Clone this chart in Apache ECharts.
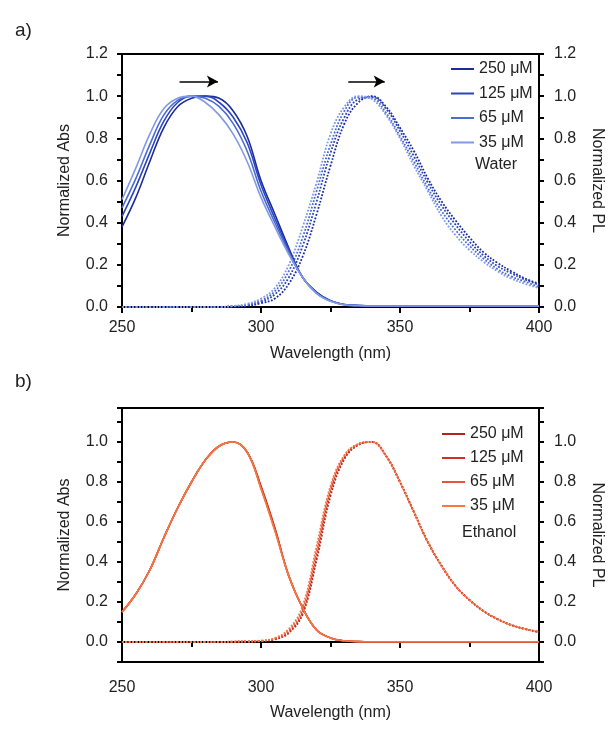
<!DOCTYPE html>
<html>
<head>
<meta charset="utf-8">
<script src="https://cdn.jsdelivr.net/npm/echarts@6/dist/echarts.min.js"></script>
<style>
  html, body { margin: 0; padding: 0; background: #fff; }
  #main { width: 613px; height: 734px; }
</style>
</head>
<body>
<div id="main"></div>
<script>
// wavelength grid (nm), 5 nm steps
var wavelength = [250,255,260,265,270,275,280,285,290,295,300,305,310,315,320,325,330,335,340,345,350,355,360,365,370,375,380,385,390,395,400];

var legendNames = ['250 μM', '125 μM', '65 μM', '35 μM'];

// water - absorbance
var waterAbs250 = [0.38,0.52,0.69,0.85,0.95,0.99,1.00,0.99,0.93,0.81,0.60,0.44,0.28,0.14,0.07,0.03,0.012,0.007,0.005,0.005,0.005,0.005,0.005,0.005,0.005,0.005,0.005,0.005,0.005,0.005,0.005];
var waterAbs125 = [0.43,0.57,0.73,0.88,0.97,1.00,1.00,0.97,0.90,0.78,0.58,0.42,0.27,0.14,0.07,0.03,0.012,0.007,0.005,0.005,0.005,0.005,0.005,0.005,0.005,0.005,0.005,0.005,0.005,0.005,0.005];
var waterAbs65  = [0.47,0.61,0.77,0.91,0.98,1.00,0.99,0.95,0.87,0.74,0.55,0.40,0.26,0.14,0.065,0.028,0.011,0.007,0.005,0.005,0.005,0.005,0.005,0.005,0.005,0.005,0.005,0.005,0.005,0.005,0.005];
var waterAbs35  = [0.51,0.66,0.82,0.94,0.99,1.00,0.97,0.91,0.82,0.69,0.52,0.38,0.25,0.14,0.065,0.027,0.010,0.006,0.005,0.005,0.005,0.005,0.005,0.005,0.005,0.005,0.005,0.005,0.005,0.005,0.005];

// water - photoluminescence
var waterPL250 = [0,0,0,0,0,0,0,0,0.002,0.005,0.018,0.04,0.11,0.24,0.44,0.67,0.87,0.97,1.00,0.95,0.85,0.74,0.61,0.50,0.41,0.33,0.26,0.21,0.17,0.135,0.11];
var waterPL125 = [0,0,0,0,0,0,0,0,0.003,0.008,0.025,0.06,0.14,0.29,0.50,0.73,0.90,0.985,0.995,0.94,0.835,0.715,0.59,0.48,0.39,0.31,0.245,0.195,0.16,0.13,0.105];
var waterPL65  = [0,0,0,0,0,0,0,0,0.004,0.010,0.030,0.075,0.17,0.33,0.55,0.77,0.93,0.995,0.99,0.92,0.81,0.69,0.565,0.455,0.365,0.29,0.23,0.18,0.145,0.12,0.095];
var waterPL35  = [0,0,0,0,0,0,0,0,0.005,0.015,0.040,0.09,0.20,0.38,0.59,0.82,0.95,1.00,0.985,0.91,0.80,0.67,0.55,0.43,0.34,0.27,0.215,0.17,0.135,0.11,0.09];

// ethanol - absorbance
var ethAbs250 = [0.15,0.24,0.36,0.52,0.67,0.80,0.91,0.98,1.00,0.95,0.78,0.57,0.33,0.17,0.06,0.02,0.006,0.002,0.001,0.001,0.001,0.001,0.001,0.001,0.001,0.001,0.001,0.001,0.001,0.001,0.001];
var ethAbs125 = [0.15,0.24,0.36,0.52,0.67,0.80,0.91,0.98,1.00,0.95,0.775,0.565,0.33,0.17,0.06,0.02,0.006,0.002,0.001,0.001,0.001,0.001,0.001,0.001,0.001,0.001,0.001,0.001,0.001,0.001,0.001];
var ethAbs65  = [0.15,0.24,0.36,0.52,0.67,0.80,0.91,0.98,1.00,0.95,0.77,0.56,0.33,0.17,0.06,0.02,0.006,0.002,0.001,0.001,0.001,0.001,0.001,0.001,0.001,0.001,0.001,0.001,0.001,0.001,0.001];
var ethAbs35  = [0.15,0.24,0.36,0.52,0.67,0.80,0.91,0.98,1.00,0.95,0.765,0.555,0.33,0.17,0.06,0.02,0.006,0.002,0.001,0.001,0.001,0.001,0.001,0.001,0.001,0.001,0.001,0.001,0.001,0.001,0.001];

// ethanol - photoluminescence
var ethPL250 = [0,0,0,0,0,0,0,0,0.001,0.002,0.004,0.013,0.045,0.14,0.41,0.73,0.915,0.985,1.00,0.93,0.80,0.65,0.50,0.38,0.28,0.21,0.155,0.115,0.085,0.065,0.05];
var ethPL125 = [0,0,0,0,0,0,0,0,0.001,0.002,0.005,0.015,0.05,0.15,0.43,0.75,0.92,0.988,1.00,0.93,0.80,0.65,0.50,0.38,0.28,0.21,0.155,0.115,0.085,0.065,0.05];
var ethPL65  = [0,0,0,0,0,0,0,0,0.002,0.003,0.006,0.017,0.057,0.165,0.455,0.765,0.93,0.99,1.00,0.93,0.80,0.65,0.50,0.38,0.28,0.21,0.155,0.115,0.085,0.065,0.05];
var ethPL35  = [0,0,0,0,0,0,0,0,0.002,0.003,0.006,0.020,0.065,0.18,0.48,0.78,0.935,0.99,1.00,0.93,0.80,0.65,0.50,0.38,0.28,0.21,0.155,0.115,0.085,0.065,0.05];

var blues = ['#1b2c9e', '#2c45bd', '#4d6bd2', '#809be6'];
var reds  = ['#b52418', '#d0321f', '#e8543a', '#f37842'];

function pairs(vals) {
  return wavelength.map(function (w, i) { return [w, vals[i]]; });
}

function tenths(v) {
  var t = Math.round(v * 10);
  if (Math.abs(v * 10 - t) > 1e-6 || t % 2 !== 0) return '';
  return (t / 10).toFixed(1);
}

var axisFont = { fontSize: 16, color: '#222', fontFamily: 'Liberation Sans, Arial, sans-serif' };

function xAx(grid, margin, gap) {
  return {
    type: 'value', gridIndex: grid, min: 250, max: 400, interval: 50,
    name: 'Wavelength (nm)', nameLocation: 'middle', nameGap: gap,
    nameTextStyle: axisFont,
    axisLine: { show: true, lineStyle: { color: '#000', width: 2 } },
    axisTick: { show: true, inside: false, length: 6, lineStyle: { color: '#000', width: 2 } },
    minorTick: { show: true, splitNumber: 2, length: 5, lineStyle: { color: '#000', width: 2 } },
    axisLabel: Object.assign({ margin: margin }, axisFont),
    splitLine: { show: false }, minorSplitLine: { show: false }
  };
}

function yAx(grid, pos, name, min, max) {
  return {
    type: 'value', gridIndex: grid, position: pos, min: min, max: max, interval: 0.1,
    name: name, nameLocation: 'middle', nameGap: pos === 'left' ? 49 : 50, nameRotate: pos === 'left' ? 90 : -90,
    nameTextStyle: axisFont,
    axisLine: { show: true, onZero: false, lineStyle: { color: '#000', width: 2 } },
    axisTick: { show: true, inside: false, length: 5, lineStyle: { color: '#000', width: 2 } },
    axisLabel: Object.assign({ margin: pos === 'left' ? 14 : 15, formatter: tenths }, axisFont),
    splitLine: { show: false }
  };
}

function absSeries(id, vals, color, x, y) {
  return {
    name: id, type: 'line', xAxisIndex: x, yAxisIndex: y, data: pairs(vals),
    smooth: 0.4, showSymbol: false, color: color,
    lineStyle: { width: 1.6, color: color }, z: 3
  };
}

function plSeries(id, vals, color, x, y) {
  return {
    name: id, type: 'line', xAxisIndex: x, yAxisIndex: y, data: pairs(vals),
    smooth: 0.4, showSymbol: false, color: color,
    lineStyle: { width: 1.8, color: color, type: [1.8, 1.6] }, z: 2
  };
}

var chart = echarts.init(document.getElementById('main'));

var series = [
  absSeries('w250', waterAbs250, blues[0], 0, 0),
  absSeries('w125', waterAbs125, blues[1], 0, 0),
  absSeries('w65', waterAbs65, blues[2], 0, 0),
  absSeries('w35', waterAbs35, blues[3], 0, 0),
  plSeries('wpl250', waterPL250, blues[0], 0, 1),
  plSeries('wpl125', waterPL125, blues[1], 0, 1),
  plSeries('wpl65', waterPL65, blues[2], 0, 1),
  plSeries('wpl35', waterPL35, blues[3], 0, 1),
  absSeries('e250', ethAbs250, reds[0], 1, 2),
  absSeries('e125', ethAbs125, reds[1], 1, 2),
  absSeries('e65', ethAbs65, reds[2], 1, 2),
  absSeries('e35', ethAbs35, reds[3], 1, 2),
  plSeries('epl250', ethPL250, reds[0], 1, 3),
  plSeries('epl125', ethPL125, reds[1], 1, 3),
  plSeries('epl65', ethPL65, reds[2], 1, 3),
  plSeries('epl35', ethPL35, reds[3], 1, 3)
];

// shift arrows (top panel)
series[0].markLine = {
  silent: true, animation: false,
  symbol: ['none', 'arrow'], symbolSize: [9, 11],
  label: { show: false },
  lineStyle: { color: '#000', width: 1.5, type: 'solid' },
  data: [
    [{ coord: [270.7, 1.07] }, { coord: [284.5, 1.07] }],
    [{ coord: [331.4, 1.07] }, { coord: [344.5, 1.07] }]
  ]
};

function legendOf(ids, left, top, gap) {
  return {
    orient: 'vertical', left: left, top: top, data: ids,
    icon: 'rect', itemWidth: 23, itemHeight: 2, itemGap: gap,
    selectedMode: false,
    formatter: function (n) { return legendNames[ids.indexOf(n)]; },
    textStyle: { fontSize: 16, color: '#222', fontFamily: 'Liberation Sans, Arial, sans-serif', padding: [0, 0, 0, 0] }
  };
}

var titleFont = { fontSize: 16, fontWeight: 'normal', color: '#222', fontFamily: 'Liberation Sans, Arial, sans-serif' };

var option = {
  animation: false,
  backgroundColor: '#fff',
  title: [
    { text: 'a)', left: 10, top: 16, textStyle: Object.assign({}, titleFont, { fontSize: 19 }) },
    { text: 'b)', left: 10, top: 367, textStyle: Object.assign({}, titleFont, { fontSize: 19 }) },
    { text: 'Water', left: 470, top: 152, textStyle: titleFont },
    { text: 'Ethanol', left: 457, top: 520, textStyle: titleFont }
  ],
  legend: [
    legendOf(['w250', 'w125', 'w65', 'w35'], 446, 56, 8.5),
    legendOf(['e250', 'e125', 'e65', 'e35'], 437, 421, 8)
  ],
  grid: [
    { left: 122, width: 420, top: 54, height: 253, show: true, borderColor: '#000', borderWidth: 2, backgroundColor: 'transparent' },
    { left: 122, width: 420, top: 408, height: 254, show: true, borderColor: '#000', borderWidth: 2, backgroundColor: 'transparent' }
  ],
  xAxis: [xAx(0, 13, 39), xAx(1, 18, 43)],
  yAxis: [
    yAx(0, 'left', 'Normalized Abs', 0, 1.2),
    yAx(0, 'right', 'Normalized PL', 0, 1.2),
    yAx(1, 'left', 'Normalized Abs', -0.1, 1.17),
    yAx(1, 'right', 'Normalized PL', -0.1, 1.17)
  ],
  series: series
};

chart.setOption(option);
</script>
</body>
</html>
